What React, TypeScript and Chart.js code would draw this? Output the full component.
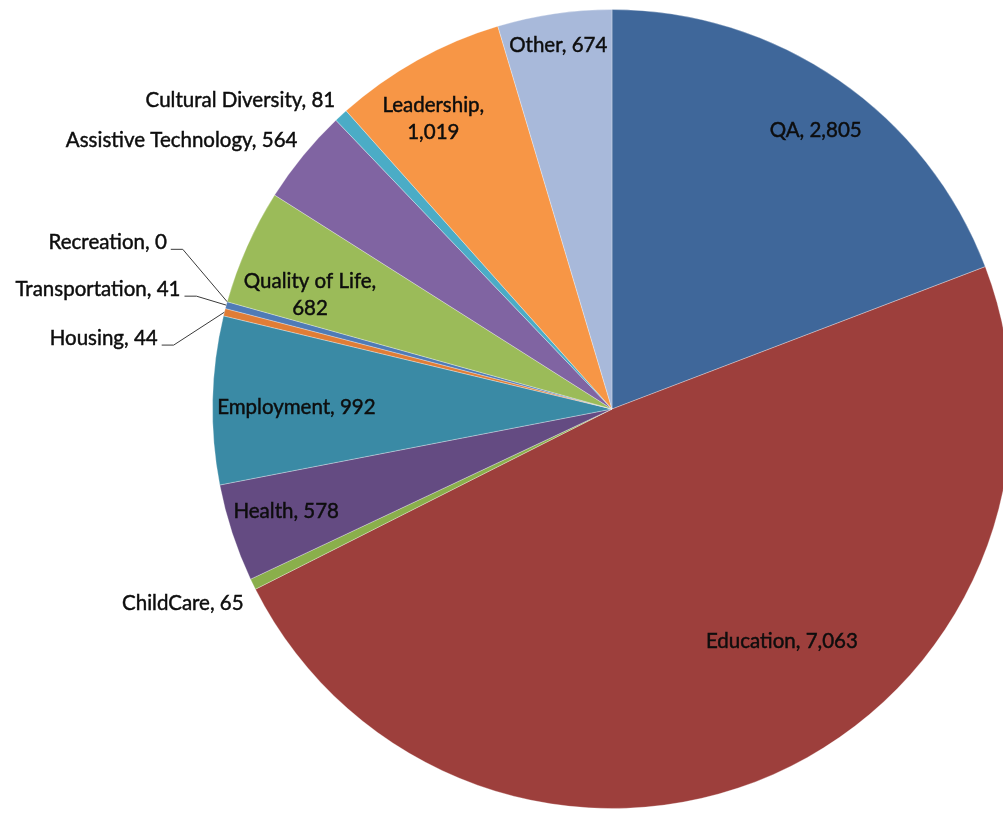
import React, { useEffect, useRef } from "react";
import { Chart, registerables } from "chart.js";

Chart.register(...registerables);

const categories = [
  "QA",
  "Education",
  "ChildCare",
  "Health",
  "Employment",
  "Housing",
  "Transportation",
  "Recreation",
  "Quality of Life",
  "Assistive Technology",
  "Cultural Diversity",
  "Leadership",
  "Other",
];
const values = [2805, 7063, 65, 578, 992, 44, 41, 0, 682, 564, 81, 1019, 674];
const colors = [
  "#3F679A",
  "#9D3F3C",
  "#8AAF4B",
  "#644B82",
  "#3A8AA5",
  "#E07D36",
  "#4F7BB6",
  "#B84744",
  "#9BBB59",
  "#8064A2",
  "#4BACC6",
  "#F79646",
  "#A8B9DA",
];
// label layout: mode, radius factor (of outer radius), angle offset (deg) from slice middle, wrap after comma
const labelModes = ["in", "in", "out", "in", "in", "leader", "leader", "leader", "in", "out", "out", "in", "in"];
const labelRadius = [0.864, 0.721, 1.043, 0.855, 0.79, 1.151, 1.121, 1.19, 0.808, 1.036, 1.037, 0.852, 0.92];
const labelShift = [1.6, -12.3, -1.85, 0.6, -0.9, -5.15, 0.45, 4.95, -3.3, 1.2, 0.8, -2.5, -0.1];
const labelWrap = [false, false, false, false, false, false, false, false, true, false, false, true, false];

const FONT = "20.5px Lato";
const LINE_H = 27;

const labelPlugin = {
  id: "sliceLabels",
  afterDatasetsDraw(chart: any) {
    const ctx = chart.ctx as CanvasRenderingContext2D;
    const meta = chart.getDatasetMeta(0);
    ctx.save();
    ctx.font = FONT;
    ctx.fillStyle = "#0d0d0d";
    ctx.textBaseline = "middle";
    const draw = (t: string, x: number, y: number) => {
      ctx.lineWidth = 0.45;
      ctx.strokeStyle = "#0d0d0d";
      ctx.strokeText(t, x, y);
      ctx.fillText(t, x, y);
    };
    meta.data.forEach((arc: any, i: number) => {
      const { x, y, startAngle, endAngle, outerRadius } = arc.getProps(
        ["x", "y", "startAngle", "endAngle", "outerRadius"],
        true
      );
      const mid = (startAngle + endAngle) / 2;
      const a = mid + (labelShift[i] * Math.PI) / 180;
      const R = outerRadius * labelRadius[i];
      const px = x + R * Math.cos(a);
      const py = y + R * Math.sin(a);
      const valStr = values[i].toLocaleString("en-US");
      const lines = labelWrap[i]
        ? [categories[i] + ",", valStr]
        : [categories[i] + ", " + valStr];
      if (labelModes[i] === "in") {
        ctx.textAlign = "center";
        const y0 = py - ((lines.length - 1) * LINE_H) / 2;
        lines.forEach((ln, k) => draw(ln, px, y0 + k * LINE_H));
      } else {
        ctx.textAlign = "right";
        draw(lines[0], px, py);
        if (labelModes[i] === "leader") {
          const ex = x + outerRadius * Math.cos(mid);
          const ey = y + outerRadius * Math.sin(mid);
          ctx.beginPath();
          ctx.strokeStyle = "#3a3a3a";
          ctx.lineWidth = 1;
          ctx.moveTo(px + 4, py + 7);
          ctx.lineTo(px + 16, py + 7);
          ctx.lineTo(ex, ey);
          ctx.stroke();
        }
      }
    });
    ctx.restore();
  },
};

export default function App() {
  const ref = useRef<HTMLCanvasElement | null>(null);
  useEffect(() => {
    document.body.style.margin = "0";
    const canvas = ref.current!;
    const chart = new Chart(canvas, {
      type: "pie",
      data: {
        labels: categories,
        datasets: [
          {
            data: values,
            backgroundColor: colors,
            borderColor: "rgba(255,255,255,0.3)",
            borderWidth: (c: any) => (values[c.dataIndex] > 0 ? 1 : 0),
          },
        ],
      },
      options: {
        responsive: false,
        animation: false,
        devicePixelRatio: 1,
        layout: { padding: { left: 212, right: 8, top: 9, bottom: 4 } },
        plugins: {
          legend: { display: false },
          tooltip: { enabled: false },
        },
      },
      plugins: [labelPlugin],
    });
    return () => chart.destroy();
  }, []);
  return (
    <div style={{ width: 1003, height: 813, overflow: "hidden", position: "relative", background: "#fff" }}>
      <canvas ref={ref} width={1020} height={813} style={{ position: "absolute", left: 0, top: 0 }} />
    </div>
  );
}
